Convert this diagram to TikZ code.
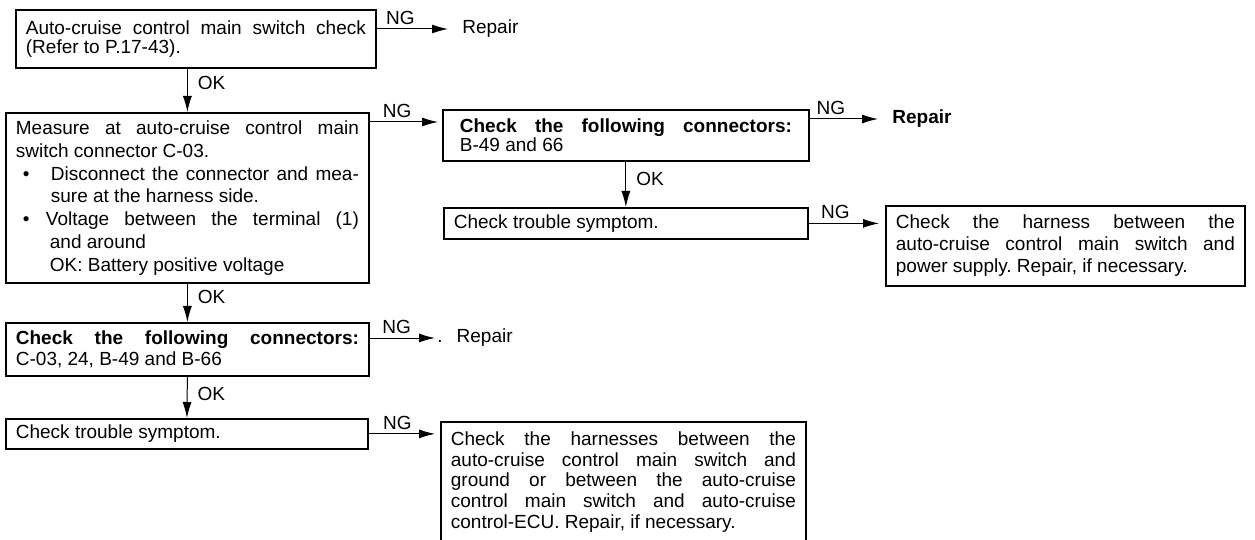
\documentclass[tikz,border=0pt]{standalone}
\usepackage{fontspec}
\setmainfont{Liberation Sans}
\usetikzlibrary{arrows.meta}
\setlength{\parindent}{0pt}
\tolerance=10000
\hyphenpenalty=10000
\frenchspacing

\begin{document}
\begin{tikzpicture}[x=0.5pt,y=-0.5pt,>={Latex[length=8pt,width=4.5pt]},
  box/.style={draw,line width=0.9pt,anchor=north west,inner xsep=5pt,inner ysep=1pt,align=justify,font=\fontsize{9.5}{10.5}\selectfont},
  ngl/.style={above,inner sep=2pt,font=\fontsize{9.5}{10}\selectfont},
  okl/.style={anchor=west,inner xsep=5pt,font=\fontsize{9.5}{10}\selectfont},
  res/.style={anchor=west,inner xsep=7pt,font=\fontsize{9.5}{10}\selectfont},
  flow/.style={->,line width=0.5pt}]
\useasboundingbox (0,0) rectangle (1255,540);

% left column
\node[box,text width=170pt,minimum height=29pt,font=\fontsize{9.5}{9.5}\selectfont] (main) at (15,9) {Auto-cruise control main switch check\linebreak (Refer to P.17-43).};
\node[box,text width=171.5pt,minimum height=85pt,font=\fontsize{9.5}{11.4}\selectfont] (meas) at (5,112) {Measure at auto-cruise control main\linebreak switch connector C-03.\par
\hangindent=17.5pt\hangafter=1\makebox[17.5pt][l]{\hspace{3.5pt}\textbullet}Disconnect the connector and mea-\linebreak sure at the harness side.\par
\hangindent=17pt\hangafter=1\makebox[15pt][l]{\hspace{3.5pt}\textbullet}Voltage between the terminal (1)\linebreak and around\\ OK: Battery positive voltage\par};
\node[box,text width=171.5pt,minimum height=26.5pt] (conn1) at (5,322) {\textbf{Check the following connectors:}\linebreak C-03, 24, B-49 and B-66};
\node[box,text width=171pt,minimum height=15pt] (sym1) at (5,418) {Check trouble symptom.};

% right column
\node[box,text width=166pt,inner xsep=8.5pt,minimum height=25.5pt,font=\fontsize{9.5}{9.5}\selectfont] (conn2) at (442,109) {\textbf{Check the following connectors:}\linebreak B-49 and 66};
\node[box,text width=172pt,minimum height=15.5pt] (sym2) at (443,207) {Check trouble symptom.};
\node[box,text width=169.5pt,minimum height=40pt,font=\fontsize{9.5}{11}\selectfont] (harn1) at (885,205) {Check the harness between the\linebreak auto-cruise control main switch and\linebreak power supply. Repair, if necessary.};
\node[box,text width=172.5pt,minimum height=60pt,font=\fontsize{9.5}{10.35}\selectfont] (harn2) at (440,421) {Check the harnesses between the\linebreak auto-cruise control main switch and\linebreak ground or between the auto-cruise\linebreak control main switch and auto-cruise\linebreak control-ECU. Repair, if necessary.};

% outcomes
\node[res] (rep1) at (448,29) {Repair};
\node[res,font=\fontsize{9.5}{10}\selectfont\bfseries] (rep2) at (878,119) {Repair};
\node[res,inner xsep=1pt] (rep3) at (435,338) {.\hspace{7pt}Repair};

% connectors
\draw[flow] (main.east |- rep1.west) -- node[ngl,pos=0.33]{NG} (rep1.west);
\draw[flow] (meas.north |- main.south) -- node[okl,pos=0.33]{OK} (meas.north);
\coordinate (conn2in) at ([yshift=-6.5pt]conn2.north west);
\draw[flow,shorten >=2pt] (meas.east |- conn2in) -- node[ngl,pos=0.38]{NG} (conn2in);
\draw[flow] (conn2.east |- rep2.west) -- node[ngl,pos=0.31]{NG} (rep2.west);
\draw[flow] (conn2.south) -- node[okl,pos=0.38]{OK} (sym2.north);
\draw[flow,shorten >=3pt] (sym2.east) -- node[ngl,pos=0.35]{NG} (sym2.east -| harn1.west);
\draw[flow] (meas.south) -- node[okl,pos=0.35]{OK} (conn1.north);
\draw[flow] (conn1.east |- rep3.west) -- node[ngl,pos=0.41]{NG} (rep3.west);
\draw[flow] (conn1.south) -- node[okl,pos=0.42]{OK} (sym1.north);
\draw[flow,shorten >=2.5pt] (sym1.east) -- node[ngl,pos=0.4]{NG} (sym1.east -| harn2.west);
\end{tikzpicture}
\end{document}
